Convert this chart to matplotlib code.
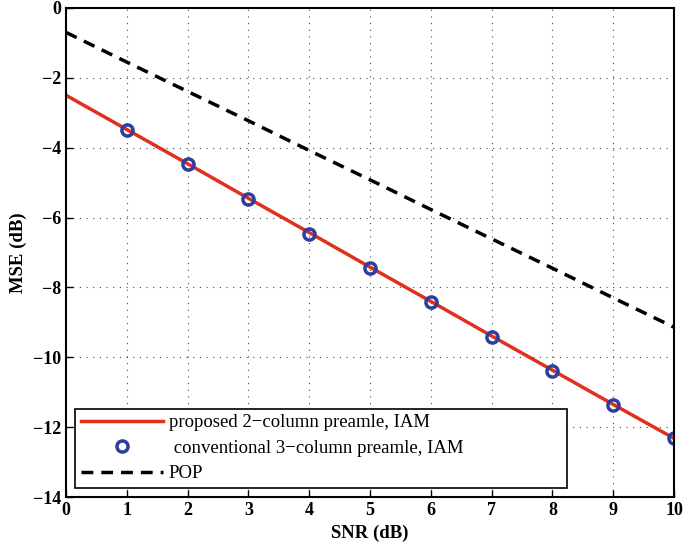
import numpy as np
import matplotlib
matplotlib.use('Agg')
import matplotlib.pyplot as plt

snr = [0, 1, 2, 3, 4, 5, 6, 7, 8, 9, 10]
mse_proposed = [-2.50, -3.48, -4.46, -5.45, -6.43, -7.42, -8.40, -9.39, -10.37, -11.35, -12.32]
snr_conv = [1, 2, 3, 4, 5, 6, 7, 8, 9, 10]
mse_conv = [-3.48, -4.46, -5.47, -6.47, -7.45, -8.42, -9.41, -10.40, -11.37, -12.32]
mse_pop = [-0.70, -1.55, -2.39, -3.23, -4.08, -4.92, -5.77, -6.61, -7.45, -8.30, -9.14]

plt.rcParams['font.family'] = ['Liberation Serif', 'DejaVu Serif']

fig = plt.figure(figsize=(6.85, 5.52), dpi=100)
ax = fig.add_axes([0.0964, 0.0996, 0.8876, 0.886])

ax.plot(snr, mse_proposed, color='#e0301e', lw=2.5, label='proposed 2\u2212column preamle, IAM')
ax.plot(snr_conv, mse_conv, 'o', ms=8, mfc='none', mec='#2b3f9e', mew=2.5,
        label=' conventional 3\u2212column preamle, IAM')
ax.plot(snr, mse_pop, '--', color='black', lw=2.5, dashes=(3.4, 2.3), label='POP')

ax.set_xlim(0, 10)
ax.set_ylim(-14, 0)
ax.set_xticks(range(0, 11))
ax.set_yticks(range(-14, 1, 2))
ax.set_yticklabels(['\u2212%d' % (-v) if v < 0 else '%d' % v for v in range(-14, 1, 2)])
ax.grid(True, linestyle=(0, (1, 5)), color='#444444', lw=0.8)
ax.tick_params(direction='in', length=5, width=1, labelsize=13)
for lbl in ax.get_xticklabels() + ax.get_yticklabels():
    lbl.set_fontweight('bold')
for s in ax.spines.values():
    s.set_linewidth(1.5)

ax.set_xlabel('SNR (dB)', fontsize=13.5, fontweight='bold', labelpad=4)
ax.set_ylabel('MSE (dB)', fontsize=13.5, fontweight='bold', labelpad=4)

leg = ax.legend(loc='lower left', bbox_to_anchor=(0.0148, 0.0184, 0.809, 0.164), fontsize=13.5,
                fancybox=False, edgecolor='black', framealpha=1,
                handlelength=4.4, handletextpad=0.3, borderpad=0.3, labelspacing=0.45,
                mode='expand', borderaxespad=0)
leg.get_frame().set_linewidth(1.2)

fig.savefig('out.png', dpi=100)
